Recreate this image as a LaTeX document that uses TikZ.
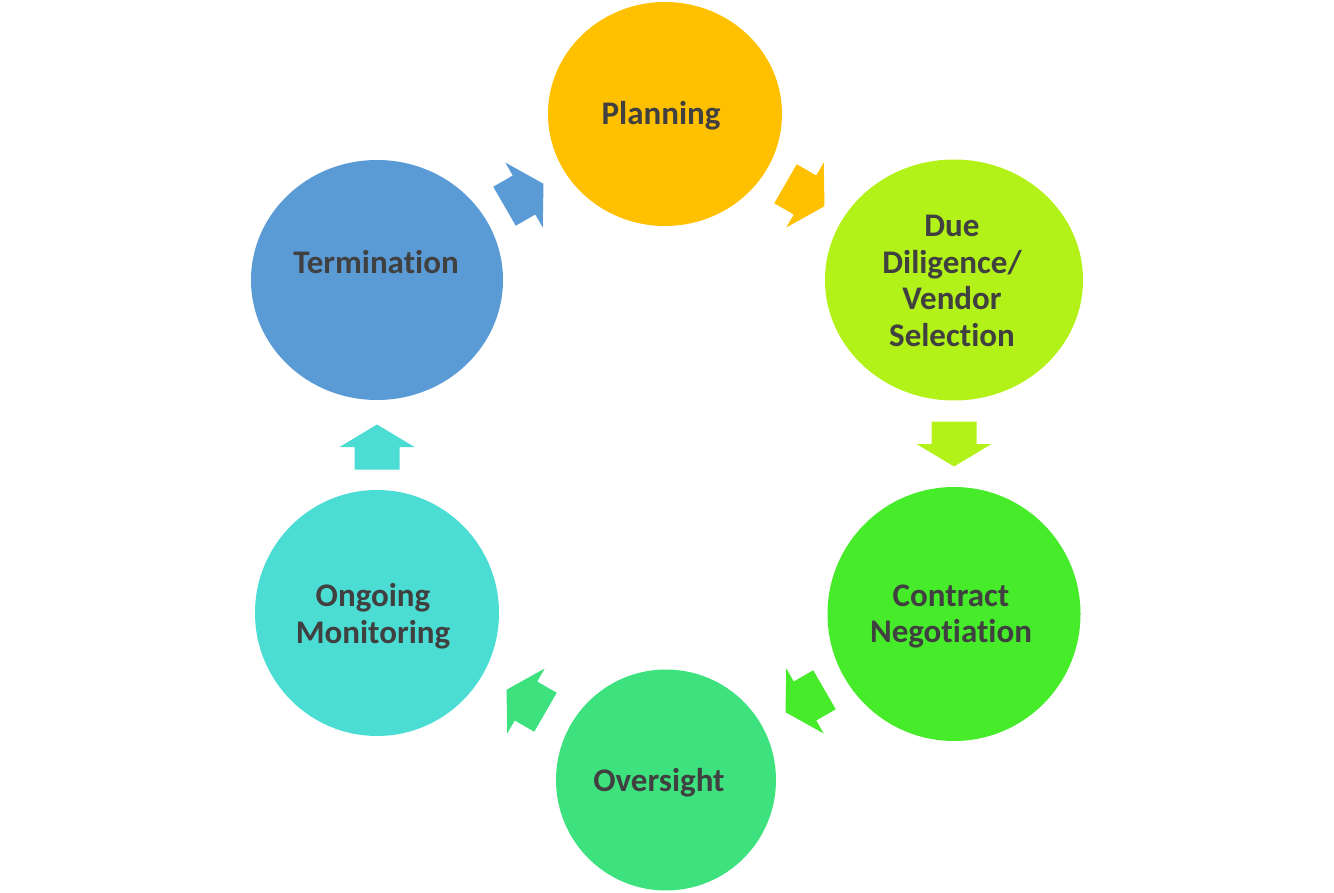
\documentclass[tikz,border=0pt]{standalone}
\usepackage{fontspec}
\setmainfont[Ligatures={NoCommon}]{Carlito}
\usetikzlibrary{shapes.geometric}
\definecolor{txt}{HTML}{404040}
\definecolor{cPlan}{HTML}{FFC000}
\definecolor{cDue}{HTML}{B2F218}
\definecolor{cCon}{HTML}{46EB2A}
\definecolor{cOver}{HTML}{3DE27F}
\definecolor{cOng}{HTML}{4BDDD3}
\definecolor{cTerm}{HTML}{5B9BD5}
\newcommand\blockarr[3]{\fill[#1, shift={(#2)}, rotate=#3] (-22.5,-22.5) -- (0,-22.5) -- (0,-37.5) -- (22.5,0) -- (0,37.5) -- (0,22.5) -- (-22.5,22.5) -- cycle;}
\begin{document}
\begin{tikzpicture}[x=1pt,y=-1pt,
  stage/.style={ellipse, inner sep=0pt, outer sep=0pt, draw=none},
  lbl/.style={text=txt, font=\bfseries\fontsize{33}{36.5}\selectfont, align=center, inner sep=0pt}
]
\useasboundingbox (0,0) rectangle (1334,893);
% stages
\node[stage, fill=cPlan, minimum width=234pt, minimum height=224pt] (plan) at (665,114) {};
\node[stage, fill=cDue,  minimum width=258pt, minimum height=241pt] (due)  at (954,280) {};
\node[stage, fill=cCon,  minimum width=253pt, minimum height=254pt] (con)  at (954,614) {};
\node[stage, fill=cOver, minimum width=220pt, minimum height=221pt] (over) at (666,780) {};
\node[stage, fill=cOng,  minimum width=244pt, minimum height=246pt] (ong)  at (377,613) {};
\node[stage, fill=cTerm, minimum width=252pt, minimum height=240pt] (term) at (377,280) {};
% labels
\node[lbl] (tplan) at (661,116) {Planning};
\node[lbl] (tdue)  at (952,281) {Due\\Diligence/\\Vendor\\Selec\kern0pt tion};
\node[lbl] (tcon)  at (951,616.5) {Contract\\Negot\kern0pt iation};
\node[lbl] (tover) at (659,783) {Oversight};
\node[lbl] (tong)  at (373,616) {Ongoing\\Monitoring};
\node[lbl] (tterm) at (376,262.5) {Terminat\kern0pt ion};
% arrow positions
\coordinate (a1) at (524,195);
\coordinate (a2) at (805,195);
\coordinate (a3) at (954,444);
\coordinate (a4) at (805,701);
\coordinate (a5) at (526,701);
\coordinate (a6) at (377,447);
% arrows
\blockarr{cTerm}{a1}{30}
\blockarr{cPlan}{a2}{-30}
\blockarr{cDue}{a3}{-90}
\blockarr{cCon}{a4}{-150}
\blockarr{cOver}{a5}{150}
\blockarr{cOng}{a6}{90}
\end{tikzpicture}
\end{document}
